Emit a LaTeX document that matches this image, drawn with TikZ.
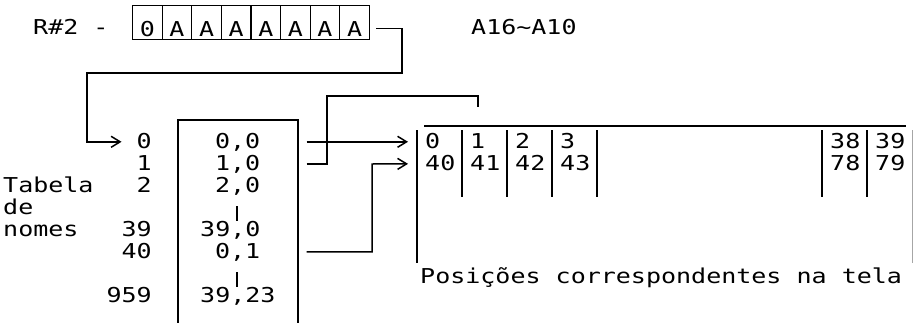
\documentclass[tikz,border=0pt]{standalone}
\usepackage{fontspec}
\newfontfamily\tmono[FakeStretch=1.22]{DejaVu Sans Mono}
\usetikzlibrary{arrows.meta}

\begin{document}
\begin{tikzpicture}[x=1pt, y=-1pt,
    wire/.style={line width=1.5pt},
    tip/.style={-{Straight Barb[length=9pt,width=11pt]}},
    txt/.style={font=\tmono\fontsize{20.5}{22}\selectfont, inner sep=0pt, text height=14pt, text depth=0pt},
    regcell/.style={txt, draw, line width=1.2pt, minimum width=29.6pt, minimum height=34pt, text height=27pt, anchor=north west}]
  \useasboundingbox (0,0) rectangle (913,322);

  % register
  \node[txt, anchor=south west] (rlab) at (33,35) {R\#2 -};
  \foreach \c [count=\i] in {0,A,A,A,A,A,A,A}
    \node[regcell] (r\i) at ({132+29.6*(\i-1)},5) {\c};
  \node[txt, anchor=south west] (alab) at (471,35) {A16\textasciitilde A10};

  % name table
  \foreach \n/\y in {0/149,1/171,2/193,39/237,40/259,959/303}
    \node[txt, anchor=south east] (i\n) at (152,\y) {\n};
  \node[txt, anchor=south west] (tab1) at (3,193) {Tabela};
  \node[txt, anchor=south west] (tab2) at (3,215) {de};
  \node[txt, anchor=south west] (tab3) at (3,237) {nomes};
  \node[draw, wire, minimum width=120pt, minimum height=240pt, anchor=north west] (tab) at (177,119) {};
  \foreach \n/\x/\y/\t in {0/214.8/149/{0,0}, 1/214.8/171/{1,0}, 2/214.8/193/{2,0},
      39/200/237/{39,0}, 40/214.8/259/{0,1}, 959/200/303/{39,23}}
    \node[txt, anchor=south west] (v\n) at (\x,\y) {\t};
  \draw[line width=1.2pt] (237,206) -- (237,221) (237,272) -- (237,287);

  % screen
  \coordinate (scr) at (417,126);
  \draw[wire] (417,130) -- (417,263);
  \draw[wire] (424,126) -- (906,126);
  \draw[wire, black!35] (913,130) -- (913,263);
  \foreach \x in {462,507,552,597,822,867}
    \draw[wire] (\x,130) -- (\x,197);
  \foreach \n/\x in {0/425,1/470,2/515,3/560,38/830,39/875}
    \node[txt, anchor=south west] (s\n) at (\x,149) {\n};
  \foreach \n/\x in {40/425,41/470,42/515,43/560,78/830,79/875}
    \node[txt, anchor=south west] (s\n) at (\x,171) {\n};
  \node[txt, anchor=south west] (cap) at (420,284) {Posições correspondentes na tela};

  % connectors
  \coordinate (regdrop) at (402,73);
  \coordinate (rowbus) at (87,73);
  \coordinate (up1) at (327,96);
  \coordinate (top1) at (478,107);
  \coordinate (up2) at (372,164);
  \draw[wire, tip, shorten <=6pt, shorten >=15pt] ([yshift=-6pt]r8.east) -| (regdrop) -- (rowbus) |- (i0.west);
  \draw[wire, tip, shorten <=8pt, shorten >=9pt] (tab.east |- v0) -- (scr |- v0);
  \draw[wire, shorten <=8pt] (tab.east |- v1) -| (up1) -| (top1);
  \draw[wire, tip, shorten <=8pt, shorten >=9pt] (tab.east |- v40) -| (up2) -- (scr |- s40);
\end{tikzpicture}
\end{document}
